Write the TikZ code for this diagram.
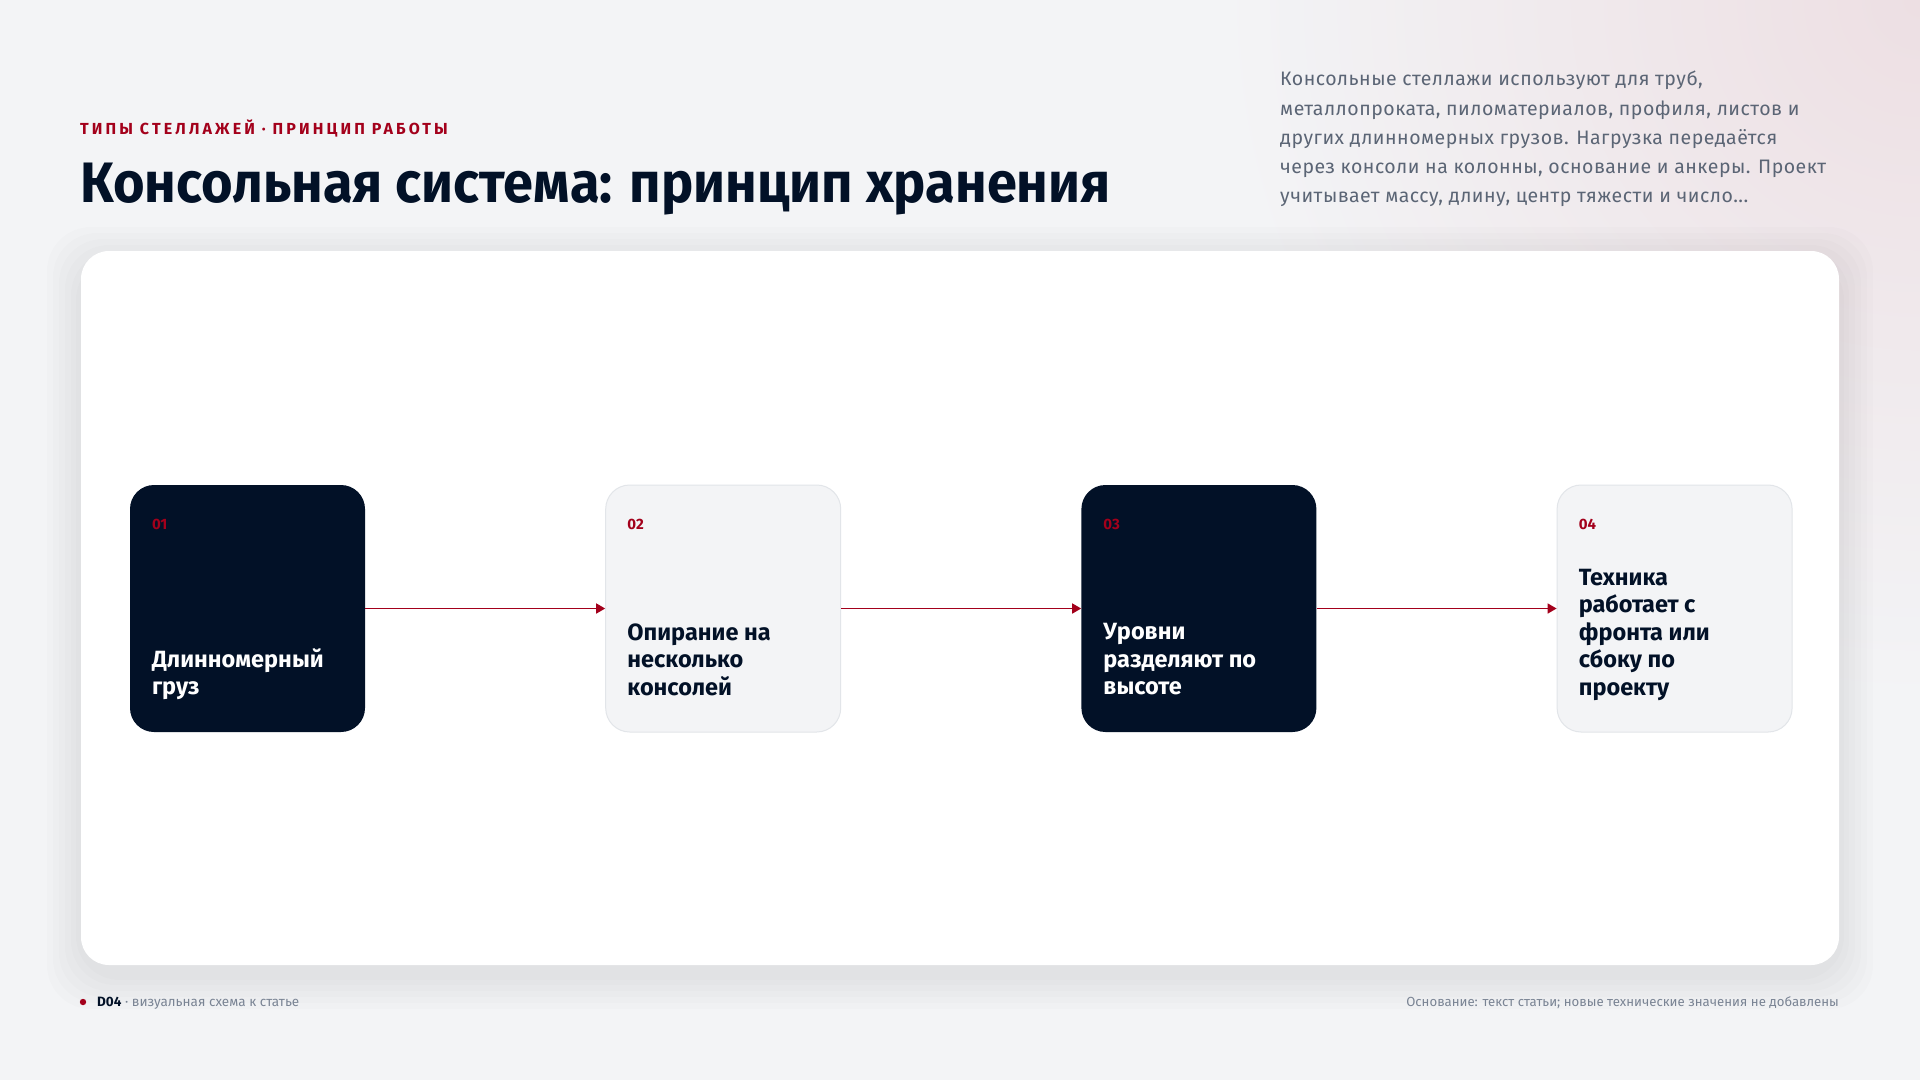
\documentclass[tikz,border=0pt]{standalone}
\usepackage{fontspec}
\setmainfont{Fira Sans}
\newfontfamily\titlefont[FakeStretch=0.95]{Fira Sans}
\newfontfamily\kickerfont[LetterSpace=19.5]{Fira Sans}
\newfontfamily\introfont[LetterSpace=2.5]{Fira Sans}
\usetikzlibrary{positioning, arrows.meta, backgrounds}

\definecolor{navy}{HTML}{021127}
\definecolor{accent}{HTML}{A3001B}
\definecolor{boxgray}{HTML}{F3F4F6}
\definecolor{boxline}{HTML}{E2E5E9}
\definecolor{bodygray}{HTML}{5B6575}
\definecolor{footgray}{HTML}{7A8494}
\definecolor{pagebg}{HTML}{F3F4F6}
\definecolor{pinkish}{HTML}{EDDFE3}

\begin{document}
\begin{tikzpicture} [
    x=1pt, y=-1pt,
    node distance=240pt,
    darkstep/.style={rectangle, rounded corners=24pt, fill=navy, minimum width=235pt, minimum height=247pt, inner sep=0pt},
    lightstep/.style={rectangle, rounded corners=24pt, fill=boxgray, draw=boxline, line width=1pt, minimum width=235pt, minimum height=247pt, inner sep=0pt},
    num/.style={anchor=north west, inner sep=0pt, text=accent, font=\bfseries\fontsize{15}{17}\selectfont},
    steptext/.style={anchor=south west, inner sep=0pt, align=left, font=\bfseries\fontsize{23.5}{27.5}\selectfont},
    arrow/.style={-{Triangle[length=9pt, width=10pt]}, accent, line width=1.6pt}
]

% page and card
\useasboundingbox (0,0) rectangle (1920,1080);
\fill[pagebg] (0,0) rectangle (1920,1080);
\shade[inner color=pinkish, outer color=pagebg] (1920,0) circle (700);
\foreach \s in {34,28,22,16,10,5} {
    \fill[black, opacity=0.012, rounded corners=44pt] (81-\s,251-\s+10) rectangle (1839+\s,965+\s+10);
}
\fill[white, rounded corners=28pt] (81,251) rectangle (1839,965);

% heading
\node[anchor=base west, inner sep=0pt, text=accent, font=\kickerfont\bfseries\fontsize{16}{18}\selectfont] (kicker) at (80,134) {ТИПЫ СТЕЛЛАЖЕЙ · ПРИНЦИП РАБОТЫ};
\node[anchor=base west, inner sep=0pt, text=navy, font=\titlefont\bfseries\fontsize{57}{60}\selectfont] (title) at (80,202) {Консольная система: принцип хранения};
\node[anchor=north west, inner sep=0pt, align=left, text=bodygray, font=\introfont\fontsize{19.5}{29.2}\selectfont] (intro) at (1280,71) {Консольные стеллажи используют для труб,\\металлопроката, пиломатериалов, профиля, листов и\\других длинномерных грузов. Нагрузка передаётся\\через консоли на колонны, основание и анкеры. Проект\\учитывает массу, длину, центр тяжести и число...};

% steps
\node[darkstep] (s1) at (247.5,608.5) {};
\node[lightstep, right=of s1] (s2) {};
\node[darkstep, right=of s2] (s3) {};
\node[lightstep, right=of s3] (s4) {};

\node[num] (n1) at ([xshift=22pt, yshift=-34pt]s1.north west) {01};
\node[num] (n2) at ([xshift=22pt, yshift=-34pt]s2.north west) {02};
\node[num] (n3) at ([xshift=22pt, yshift=-34pt]s3.north west) {03};
\node[num] (n4) at ([xshift=22pt, yshift=-34pt]s4.north west) {04};

\node[steptext, text=white] (t1) at ([xshift=22pt, yshift=29pt]s1.south west) {Длинномерный\\груз\strut};
\node[steptext, text=navy] (t2) at ([xshift=22pt, yshift=29pt]s2.south west) {Опирание на\\несколько\\консолей\strut};
\node[steptext, text=white] (t3) at ([xshift=22pt, yshift=29pt]s3.south west) {Уровни\\разделяют по\\высоте\strut};
\node[steptext, text=navy] (t4) at ([xshift=22pt, yshift=29pt]s4.south west) {Техника\\работает с\\фронта или\\сбоку по\\проекту\strut};

\draw[arrow] (s1) -- (s2);
\draw[arrow] (s2) -- (s3);
\draw[arrow] (s3) -- (s4);

% footer
\fill[accent] (83,1002) circle (3.2);
\node[anchor=base west, inner sep=0pt, font=\fontsize{13.5}{15}\selectfont] (code) at (97,1006) {\textcolor{navy}{\bfseries D04}\ \textcolor{footgray}{· визуальная схема к статье}};
\node[anchor=base east, inner sep=0pt, text=footgray, font=\fontsize{13.2}{15}\selectfont] (source) at (1839,1006) {Основание: текст статьи; новые технические значения не добавлены};

\end{tikzpicture}
\end{document}
